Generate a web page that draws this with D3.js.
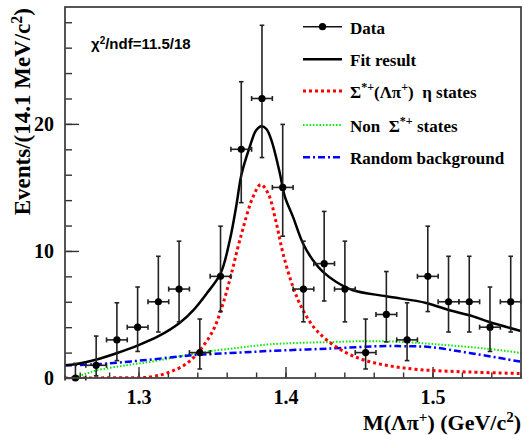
<!DOCTYPE html>
<html><head><meta charset="utf-8">
<script src="https://cdn.jsdelivr.net/npm/d3@7"></script>
<style>body{margin:0;background:#fff} svg{display:block} text{white-space:pre}</style>
</head><body>
<script>
// ---- data ----
const mass   = [1.2571,1.2712,1.2853,1.2994,1.3135,1.3276,1.3417,1.3558,1.3699,1.3840,1.3981,
                1.4122,1.4263,1.4404,1.4545,1.4686,1.4827,1.4968,1.5109,1.5250,1.5391,1.5532];
const counts = [0,1,3,4,6,7,2,8,18,22,15,7,9,7,2,5,3,8,6,6,4,6];
const errLow  = [0,0.83,1.63,1.91,2.38,2.58,1.29,2.77,4.20,4.65,3.84,2.58,2.94,2.58,1.29,2.16,1.63,2.77,2.38,2.38,1.91,2.38];
const errHigh = [1.15,2.30,2.92,3.16,3.58,3.77,2.64,3.95,5.32,5.76,4.96,3.77,4.11,3.77,2.64,3.38,2.92,3.95,3.58,3.58,3.16,3.58];
const halfBin = 0.00705;

const fitX = [1.2500,1.2573,1.2715,1.2855,1.2996,1.3139,1.3279,1.3372,1.3463,1.3558,1.3621,1.3666,1.3700,1.3757,1.3800,1.3836,1.3870,1.3904,1.3960,1.3995,1.4051,1.4119,1.4187,1.4255,1.4346,1.4459,1.4685,1.4957,1.5116,1.5251,1.5387,1.5602];
const fitY = [1.00,1.08,1.45,1.97,2.57,3.31,4.33,5.33,6.64,8.22,10.84,13.6,16.0,18.2,19.5,19.82,19.6,18.72,16.2,14.3,12.68,10.58,9.27,8.35,7.56,6.91,6.43,5.91,5.33,4.94,4.41,3.70];

const sigX = [1.2500,1.2855,1.3077,1.3213,1.3327,1.3417,1.3508,1.3575,1.3632,1.3689,1.3779,1.3832,1.3882,1.3938,1.3983,1.4051,1.4119,1.4210,1.4346,1.4504,1.4685,1.4912,1.5251,1.5602];
const sigY = [0.00,0.02,0.08,0.47,1.13,2.18,3.76,5.86,8.22,10.84,14.25,15.23,14.52,12.16,9.80,7.17,5.33,3.76,2.44,1.53,1.00,0.66,0.47,0.35];

const nonX = [1.2502,1.2553,1.2647,1.2715,1.2919,1.3145,1.3417,1.3689,1.3893,1.4290,1.4685,1.5025,1.5365,1.5602];
const nonY = [0.00,0.02,0.35,0.60,1.00,1.40,2.00,2.39,2.65,2.83,2.89,2.65,2.31,1.97];

const bkgX = [1.2500,1.2715,1.3029,1.3369,1.3689,1.3893,1.4290,1.4685,1.4810,1.4980,1.5251,1.5602];
const bkgY = [1.00,1.08,1.39,1.79,2.00,2.13,2.31,2.52,2.50,2.44,1.97,1.28];

const xMajor = [1.3,1.4,1.5];
const xMinor = [1.26,1.28,1.30,1.32,1.34,1.36,1.38,1.40,1.42,1.44,1.46,1.48,1.50,1.52,1.54,1.56];
const yMajor = [0,10,20];
const yMinor = [2,4,6,8,10,12,14,16,18,20,22,24,26,28];
const xDomain = [1.25,1.5602];
const yDomain = [0,29.2];

// ---- drawing ----
const W=524,H=435;
const L=65,R=521,T=7,B=378;
const serif = "'Liberation Serif','Times New Roman',serif";
const svg = d3.select("body").append("svg").attr("width",W).attr("height",H);
const x = d3.scaleLinear().domain(xDomain).range([L,R]);
const y = d3.scaleLinear().domain(yDomain).range([B,T]);

svg.append("defs").append("clipPath").attr("id","clip")
  .append("rect").attr("x",L).attr("y",T).attr("width",R-L).attr("height",B-T);

// axes
function styleAxis(g){ g.select(".domain").remove(); g.selectAll("line").attr("stroke","#333").attr("stroke-width",1.4); }
svg.append("g").attr("transform",`translate(0,${B})`)
  .call(d3.axisBottom(x).tickValues(xMinor).tickSize(-5.5).tickFormat(""))
  .call(styleAxis);
svg.append("g").attr("transform",`translate(0,${B})`)
  .call(d3.axisBottom(x).tickValues(xMajor).tickSize(-11).tickPadding(12).tickFormat(d3.format(".1f")))
  .call(styleAxis)
  .call(g=>g.selectAll("text").attr("font-family",serif).attr("font-weight","bold").attr("font-size",20).attr("fill","#000").attr("dy","0.71em"));
svg.append("g").attr("transform",`translate(${L},0)`)
  .call(d3.axisLeft(y).tickValues(yMinor).tickSize(-7).tickFormat(""))
  .call(styleAxis);
svg.append("g").attr("transform",`translate(${L},0)`)
  .call(d3.axisLeft(y).tickValues(yMajor).tickSize(-14).tickPadding(11).tickFormat(d3.format("d")))
  .call(styleAxis)
  .call(g=>g.selectAll("text").attr("font-family",serif).attr("font-weight","bold").attr("font-size",20).attr("fill","#000"));

// curves
const line = d3.line().x(d=>x(d[0])).y(d=>y(d[1])).curve(d3.curveCatmullRom.alpha(0.5));
const cg = svg.append("g").attr("clip-path","url(#clip)");
function curve(xs,ys,color,w,dash){
  cg.append("path").attr("d",line(xs.map((v,i)=>[v,ys[i]])))
    .attr("fill","none").attr("stroke",color).attr("stroke-width",w)
    .attr("stroke-dasharray",dash||null);
}
curve(nonX,nonY,"#00ee00",2,"1.5,1.8");
curve(bkgX,bkgY,"#0000ff",2.5,"7,3,2,3");
curve(sigX,sigY,"#ff0000",3,"3,3");
curve(fitX,fitY,"#000",2.5,null);

// data points
const dg = svg.append("g").attr("stroke","#222").attr("stroke-width",1.6);
mass.forEach((m,i)=>{
  const cx=x(m), cy=y(counts[i]);
  const x0=x(m-halfBin), x1=x(m+halfBin);
  const yl=y(counts[i]-errLow[i]), yh=y(counts[i]+errHigh[i]);
  dg.append("line").attr("x1",x0).attr("x2",x1).attr("y1",cy).attr("y2",cy);
  dg.append("line").attr("x1",x0).attr("x2",x0).attr("y1",cy-2.5).attr("y2",cy+2.5);
  dg.append("line").attr("x1",x1).attr("x2",x1).attr("y1",cy-2.5).attr("y2",cy+2.5);
  dg.append("line").attr("x1",cx).attr("x2",cx).attr("y1",yl).attr("y2",yh);
  dg.append("line").attr("x1",cx-2.3).attr("x2",cx+2.3).attr("y1",yh).attr("y2",yh);
  if(errLow[i]>0) dg.append("line").attr("x1",cx-2.3).attr("x2",cx+2.3).attr("y1",yl).attr("y2",yl);
  dg.append("circle").attr("cx",cx).attr("cy",cy).attr("r",3.6).attr("fill","#000").attr("stroke","none");
});

// frame
svg.append("rect").attr("x",L).attr("y",T).attr("width",R-L).attr("height",B-T)
  .attr("fill","none").attr("stroke","#444").attr("stroke-width",1.8);

// rich text helper (superscripts via baseline-shift)
function rich(t, parts, size){
  parts.forEach(p=>{
    const s = t.append("tspan").text(p.t);
    if(p.sup) s.attr("font-size",Math.round(size*0.68)).attr("baseline-shift","super");
  });
  return t;
}

// axis titles
const xt = svg.append("text").attr("x",521).attr("y",430).attr("text-anchor","end")
  .attr("font-family",serif).attr("font-weight","bold").attr("font-size",22);
rich(xt,[{t:"M(\u039b\u03c0"},{t:"+",sup:true},{t:") (GeV/c"},{t:"2",sup:true},{t:")"}],22);

const yt = svg.append("text").attr("transform","translate(30,8) rotate(-90)").attr("text-anchor","end")
  .attr("font-family",serif).attr("font-weight","bold").attr("font-size",23);
rich(yt,[{t:"Events/(14.1 MeV/c"},{t:"2",sup:true},{t:")"}],23);

// chi2 text
const ct = svg.append("text").attr("x",91).attr("y",49)
  .attr("font-family","'Liberation Sans',Arial,sans-serif").attr("font-weight","bold").attr("font-size",15);
rich(ct,[{t:"\u03c7"},{t:"2",sup:true},{t:"/ndf=11.5/18"}],15);

// legend
const legY = [26.7,59.3,91,125,157.3];
const lx0=303, lx1=342, tx=350;
const lg = svg.append("g");
lg.append("line").attr("x1",lx0).attr("x2",lx1).attr("y1",legY[0]).attr("y2",legY[0]).attr("stroke","#111").attr("stroke-width",1.6);
lg.append("circle").attr("cx",(lx0+lx1)/2).attr("cy",legY[0]).attr("r",3.6).attr("fill","#000");
lg.append("line").attr("x1",lx0).attr("x2",lx1).attr("y1",legY[1]).attr("y2",legY[1]).attr("stroke","#000").attr("stroke-width",2.5);
lg.append("line").attr("x1",lx0).attr("x2",lx1).attr("y1",legY[2]).attr("y2",legY[2]).attr("stroke","#ff0000").attr("stroke-width",3).attr("stroke-dasharray","3,3");
lg.append("line").attr("x1",lx0).attr("x2",lx1).attr("y1",legY[3]).attr("y2",legY[3]).attr("stroke","#00ee00").attr("stroke-width",2).attr("stroke-dasharray","1.5,1.8");
lg.append("line").attr("x1",lx0).attr("x2",lx1).attr("y1",legY[4]).attr("y2",legY[4]).attr("stroke","#0000ff").attr("stroke-width",2.5).attr("stroke-dasharray","7,3,2,3");
const legParts = [
  [{t:"Data"}],
  [{t:"Fit result"}],
  [{t:"\u03a3"},{t:"*+",sup:true},{t:"(\u039b\u03c0"},{t:"+",sup:true},{t:")  \u03b7 states"}],
  [{t:"Non  \u03a3"},{t:"*+",sup:true},{t:" states"}],
  [{t:"Random background"}]
];
legParts.forEach((p,i)=>{
  const t = lg.append("text").attr("x",tx).attr("y",legY[i]+7).attr("font-family",serif)
    .attr("font-weight","bold").attr("font-size",17).attr("fill","#000");
  rich(t,p,17);
});
</script>
</body></html>
